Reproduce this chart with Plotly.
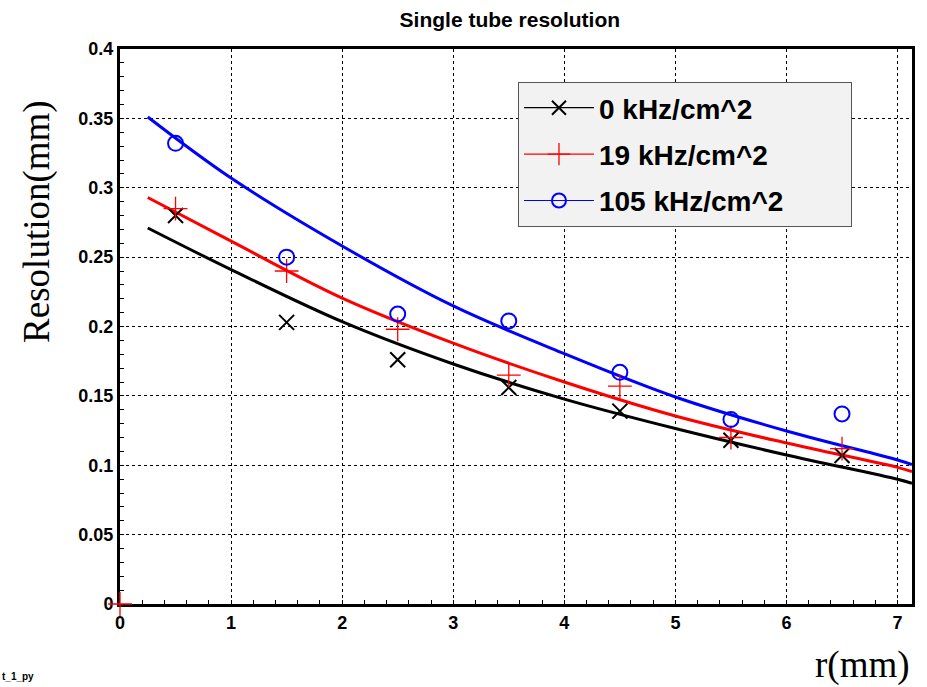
import plotly.graph_objects as go

# ---- data ----
r_pts = [0.5, 1.5, 2.5, 3.5, 4.5, 5.5, 6.5]
res_0 = [0.280, 0.203, 0.176, 0.156, 0.139, 0.118, 0.107]
res_19_r = [0.0, 0.5, 1.5, 2.5, 3.5, 4.5, 5.5, 6.5]
res_19 = [0.0, 0.285, 0.240, 0.198, 0.165, 0.157, 0.120, 0.112]
res_105 = [0.332, 0.250, 0.209, 0.204, 0.167, 0.133, 0.137]

fit_r = [0.25, 1.0, 2.0, 3.0, 4.0, 5.0, 6.0, 7.0, 7.13]
fit_0 = [0.271, 0.241, 0.2035, 0.173, 0.1477, 0.1265, 0.1074, 0.0899, 0.087]
fit_19 = [0.293, 0.2615, 0.2205, 0.188, 0.160, 0.1355, 0.116, 0.0985, 0.0955]
fit_105 = [0.351, 0.307, 0.258, 0.2148, 0.1804, 0.1492, 0.1247, 0.1038, 0.1005]

labels = ["0 kHz/cm^2", "19 kHz/cm^2", "105 kHz/cm^2"]
colors = ["black", "#ff0000", "#0000ff"]
symbols = ["x-thin-open", "cross-thin-open", "circle-open"]
sizes = [15, 17, 15]
mwidths = [2, 1.3, 2]

x_ticks = [0, 1, 2, 3, 4, 5, 6, 7]
y_ticks = [0, 0.05, 0.1, 0.15, 0.2, 0.25, 0.3, 0.35, 0.4]
y_ticktext = ["0", "0.05", "0.1", "0.15", "0.2", "0.25", "0.3", "0.35", "0.4"]

fig = go.Figure()

# fit curves
for fy, c in [(fit_0, colors[0]), (fit_19, colors[1]), (fit_105, colors[2])]:
    fig.add_trace(go.Scatter(x=fit_r, y=fy, mode="lines", line=dict(color=c, width=3, shape="spline"),
                             showlegend=False, hoverinfo="skip"))

# data points
for xs, ys, i in [(r_pts, res_0, 0), (res_19_r, res_19, 1), (r_pts, res_105, 2)]:
    fig.add_trace(go.Scatter(x=xs, y=ys, mode="markers", showlegend=False,
                             marker=dict(symbol=symbols[i], size=sizes[i], color=colors[i],
                                         line=dict(color=colors[i], width=mwidths[i])),
                             cliponaxis=False))

# legend entries (line + marker, like the graph legend)
pad = "\u00a0" * 8
for i in range(3):
    fig.add_trace(go.Scatter(x=[None], y=[None], mode="lines+markers", name=labels[i] + pad,
                             legendgroup=f"g{i}",
                             line=dict(color=colors[i], width=1.2),
                             marker=dict(symbol=symbols[i], size=sizes[i] - 1, color=colors[i],
                                         line=dict(color=colors[i], width=mwidths[i]))))

axis_common = dict(showline=True, linecolor="black", linewidth=3, mirror=True,
                   showgrid=True, gridcolor="black", griddash="dot", gridwidth=1,
                   ticks="inside", ticklen=0, tickcolor="black",
                   zeroline=False, layer="below traces",
                   tickfont=dict(family="Liberation Sans", size=18, color="black", weight="bold"))

fig.update_xaxes(range=[0, 7.13], tickvals=x_ticks,
                 minor=dict(dtick=0.2, ticks="inside", ticklen=4, tickcolor="black", showgrid=False),
                 **axis_common)
fig.update_yaxes(range=[0, 0.4], tickvals=y_ticks, ticktext=y_ticktext,
                 minor=dict(dtick=0.01, ticks="inside", ticklen=4, tickcolor="black", showgrid=False),
                 **axis_common)

fig.update_layout(
    width=927, height=687,
    margin=dict(l=120, r=15, t=49, b=83),
    paper_bgcolor="white", plot_bgcolor="white",
    title=dict(text="Single tube resolution", x=0.55, xanchor="center", y=0.972, yanchor="middle",
               font=dict(family="Liberation Sans", size=21, color="black", weight="bold")),
    legend=dict(x=0.5025, y=0.9405, xanchor="left", yanchor="top",
                bgcolor="#f2f2f2", bordercolor="#555555", borderwidth=1,
                font=dict(family="Liberation Sans", size=28, color="black", weight="bold"),
                tracegroupgap=7, itemwidth=70),
    showlegend=True,
)

fig.add_annotation(text="Resolution(mm)", xref="paper", yref="paper", x=-0.105, y=0.69,
                   xanchor="center", yanchor="middle", textangle=-90, showarrow=False,
                   font=dict(family="Liberation Serif", size=37, color="black"))
fig.add_annotation(text="r(mm)", xref="paper", yref="paper", x=1.0, y=-0.11,
                   xanchor="right", yanchor="middle", showarrow=False,
                   font=dict(family="Liberation Serif", size=37, color="black"))
fig.add_annotation(text="t_1_py", xref="paper", yref="paper", x=-0.152, y=-0.13,
                   xanchor="left", yanchor="middle", showarrow=False,
                   font=dict(family="Liberation Sans", size=10, color="black", weight="bold"))

fig.write_html("out.html")
